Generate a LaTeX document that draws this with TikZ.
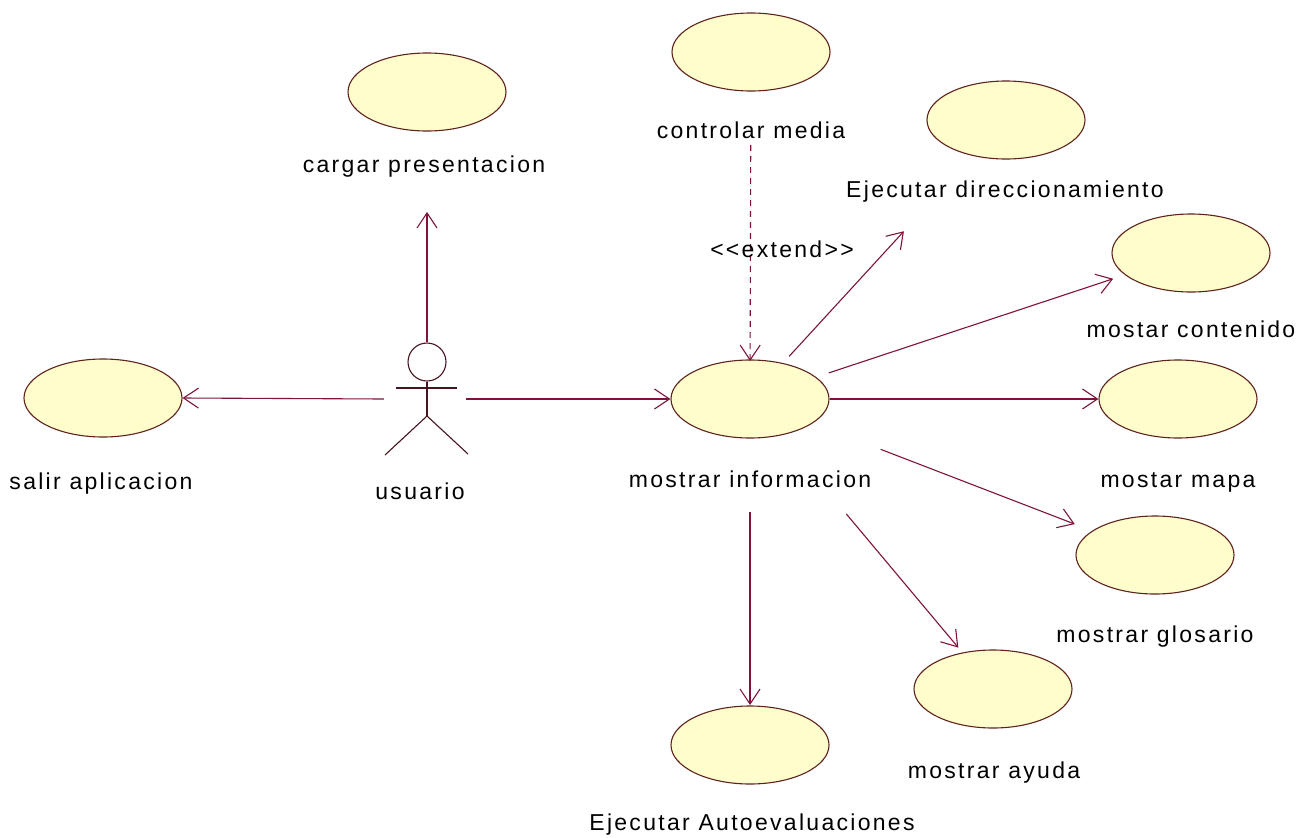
\documentclass[tikz,border=0pt]{standalone}
\usepackage{fontspec}
\newfontfamily\umlfont{Liberation Sans}[LetterSpace=10]
\usetikzlibrary{arrows.meta,shapes.geometric}
\definecolor{ucfill}{RGB}{255,253,204}
\definecolor{ucline}{RGB}{95,35,30}
\definecolor{conn}{RGB}{125,20,60}
\definecolor{actorc}{RGB}{70,20,30}
\tikzset{
  usecase/.style={ellipse, draw=ucline, fill=ucfill, line width=1.1pt, minimum width=158pt, minimum height=78pt, inner sep=0pt},
  lbl/.style={anchor=base, inner sep=0pt, font=\umlfont\fontsize{23}{27}\selectfont, text=black},
  assoc/.style={draw=conn, line width=1.1pt, -{Straight Barb[length=15pt,width=20pt,line width=1.1pt]}},
  extendline/.style={draw=conn, line width=1.1pt, dash pattern=on 6pt off 5pt, -{Straight Barb[length=15pt,width=20pt,line width=1.1pt]}},
  actorline/.style={draw=actorc, line width=1.1pt}
}
\begin{document}
\begin{tikzpicture}[x=1pt,y=-1pt]
\fill[white] (0,0) rectangle (1312,838);
\useasboundingbox (0,0) rectangle (1312,838);

% use cases
\node[usecase] (cargar) at (427,92) {};
\node[usecase] (cm) at (751,52) {};
\node[usecase] (ed) at (1006,120) {};
\node[usecase] (cont) at (1191,253) {};
\node[usecase] (salir) at (103,398) {};
\node[usecase] (mi) at (750,399) {};
\node[usecase] (mapa) at (1178,399) {};
\node[usecase] (glos) at (1155,555) {};
\node[usecase] (ayuda) at (993,689) {};
\node[usecase] (auto) at (750,745) {};

% labels
\node[lbl] (cargarlbl) at (424,172) {cargar presentacion};
\node[lbl] (cmlbl) at (751,138) {controlar media};
\node[lbl] (edlbl) at (1005,197) {Ejecutar direccionamiento};
\node[lbl] (contlbl) at (1191,337) {mostar contenido};
\node[lbl] (salirlbl) at (101,489) {salir aplicacion};
\node[lbl] (usuariolbl) at (420,499) {usuario};
\node[lbl] (milbl) at (750,487) {mostrar informacion};
\node[lbl] (mapalbl) at (1178,487) {mostar mapa};
\node[lbl] (glosariolbl) at (1155,642) {mostrar glosario};
\node[lbl] (ayudalbl) at (994,778) {mostrar ayuda};
\node[lbl] (autolbl) at (752,830) {Ejecutar Autoevaluaciones};

% actor
\node[circle, draw=actorc, line width=1.1pt, minimum size=38pt, inner sep=0pt, fill=white] (head) at (427,362) {};
\node[inner sep=0pt, minimum width=82pt, minimum height=110pt] (actor) at (425,399) {};
\coordinate (hip) at (427,416);
\coordinate (armL) at (396,388);
\coordinate (armR) at (457,388);
\coordinate (legL) at (385,455);
\coordinate (legR) at (468,454);
\draw[actorline] (head.south) -- (hip);
\draw[actorline] (armL) -- (armR);
\draw[actorline] (legL) -- (hip) -- (legR);

% connectors
\draw[assoc, shorten >=120pt] (head.north) -- (cargar.center);
\draw[assoc] (actor.west) -- (salir.east);
\draw[assoc] (actor.east) -- (mi.west);
\draw[extendline, shorten <=93pt, shorten >=38pt] (cm.center) -- (mi.center);
\node[lbl] (extlbl) at (782,257) {<<extend>>};
\draw[assoc, shorten <=58pt, shorten >=151pt] (mi.center) -- (ed.center);
\draw[assoc, shorten <=83pt, shorten >=82pt] (mi.center) -- (cont.center);
\draw[assoc] (mi.east) -- (mapa.west);
\draw[assoc, shorten <=140pt, shorten >=86pt] (mi.center) -- (glos.center);
\draw[assoc, shorten <=150pt, shorten >=54pt] (mi.center) -- (ayuda.center);
\draw[assoc, shorten <=113pt, shorten >=40pt] (mi.center) -- (auto.center);
\end{tikzpicture}
\end{document}
